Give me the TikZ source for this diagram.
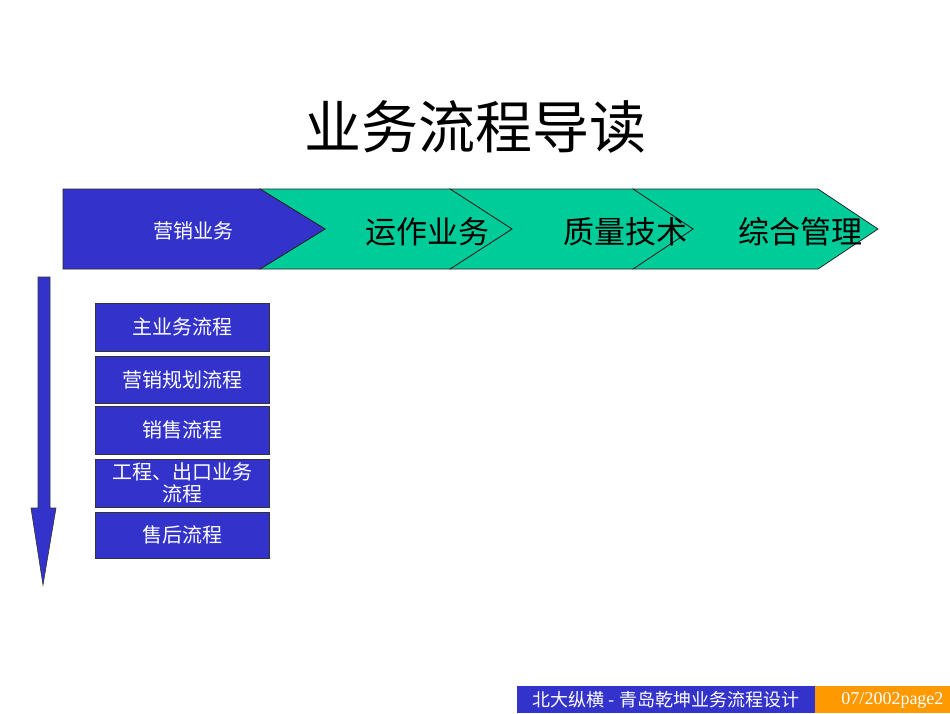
\documentclass[tikz,border=0pt]{standalone}
\usepackage{fontspec}
\setmainfont{Liberation Serif}
\newfontfamily\cjk{Noto Sans CJK SC}
\definecolor{pblue}{HTML}{3333CC}
\definecolor{pgreen}{HTML}{00CC99}
\definecolor{porange}{HTML}{FF9900}
\begin{document}
\begin{tikzpicture}[x=1pt,y=-1pt,
  chev/.style={draw=black!85, line width=0.8pt, line join=miter},
  pbox/.style={draw=black!80, fill=pblue, line width=0.6pt, minimum width=174pt, anchor=north west, inner sep=0pt, text=white, font=\cjk\fontsize{20}{23}\selectfont, align=center},
  chevtext/.style={font=\cjk\fontsize{31}{34}\selectfont, text=black},
]
\useasboundingbox (0,0) rectangle (950,713);
\fill[white] (0,0) rectangle (950,713);
% title
\node[font=\cjk\fontsize{57}{60}\selectfont] (title) at (475,127) {业务流程导读};
% chevrons
\filldraw[chev, fill=pgreen] (633,189) -- (818,189) -- (878,229) -- (818,269) -- (633,269) -- (693,229) -- cycle;
\filldraw[chev, fill=pgreen] (450,189) -- (633,189) -- (693,229) -- (633,269) -- (450,269) -- (512,229) -- cycle;
\filldraw[chev, fill=pgreen] (260,189) -- (450,189) -- (512,229) -- (450,269) -- (260,269) -- (325,229) -- cycle;
\filldraw[chev, fill=pblue] (63,189) -- (260,189) -- (325,229) -- (260,269) -- (63,269) -- cycle;
\node[font=\cjk\fontsize{20}{23}\selectfont, text=white] (c1) at (193,231) {营销业务};
\node[chevtext] (c2) at (427,232) {运作业务};
\node[chevtext] (c3) at (625,232) {质量技术};
\node[chevtext] (c4) at (800,232) {综合管理};
% down arrow
\filldraw[draw=black!80, fill=pblue, line width=0.6pt] (38,277) -- (50,277) -- (50,508) -- (56,508) -- (43,585) -- (31,508) -- (38,508) -- cycle;
% boxes
\node[pbox, minimum height=48pt] (b1) at (95,303) {主业务流程};
\node[pbox, minimum height=47pt] (b2) at (95,356) {营销规划流程};
\node[pbox, minimum height=48pt] (b3) at (95,406) {销售流程};
\node[pbox, minimum height=48pt, font=\cjk\fontsize{20}{22}\selectfont] (b4) at (95,459) {工程、出口业务\\流程};
\node[pbox, minimum height=46pt] (b5) at (95,512) {售后流程};
% footer
\fill[pblue] (517,686) rectangle (815,713);
\fill[porange] (815,686) rectangle (950,713);
\node[font=\cjk\fontsize{18}{20}\selectfont, text=white] (f1) at (666,700) {北大纵横 - 青岛乾坤业务流程设计};
\node[font=\fontsize{18}{20}\selectfont, text=white, anchor=east] (f2) at (947,700) {07/2002page2};
\end{tikzpicture}
\end{document}
